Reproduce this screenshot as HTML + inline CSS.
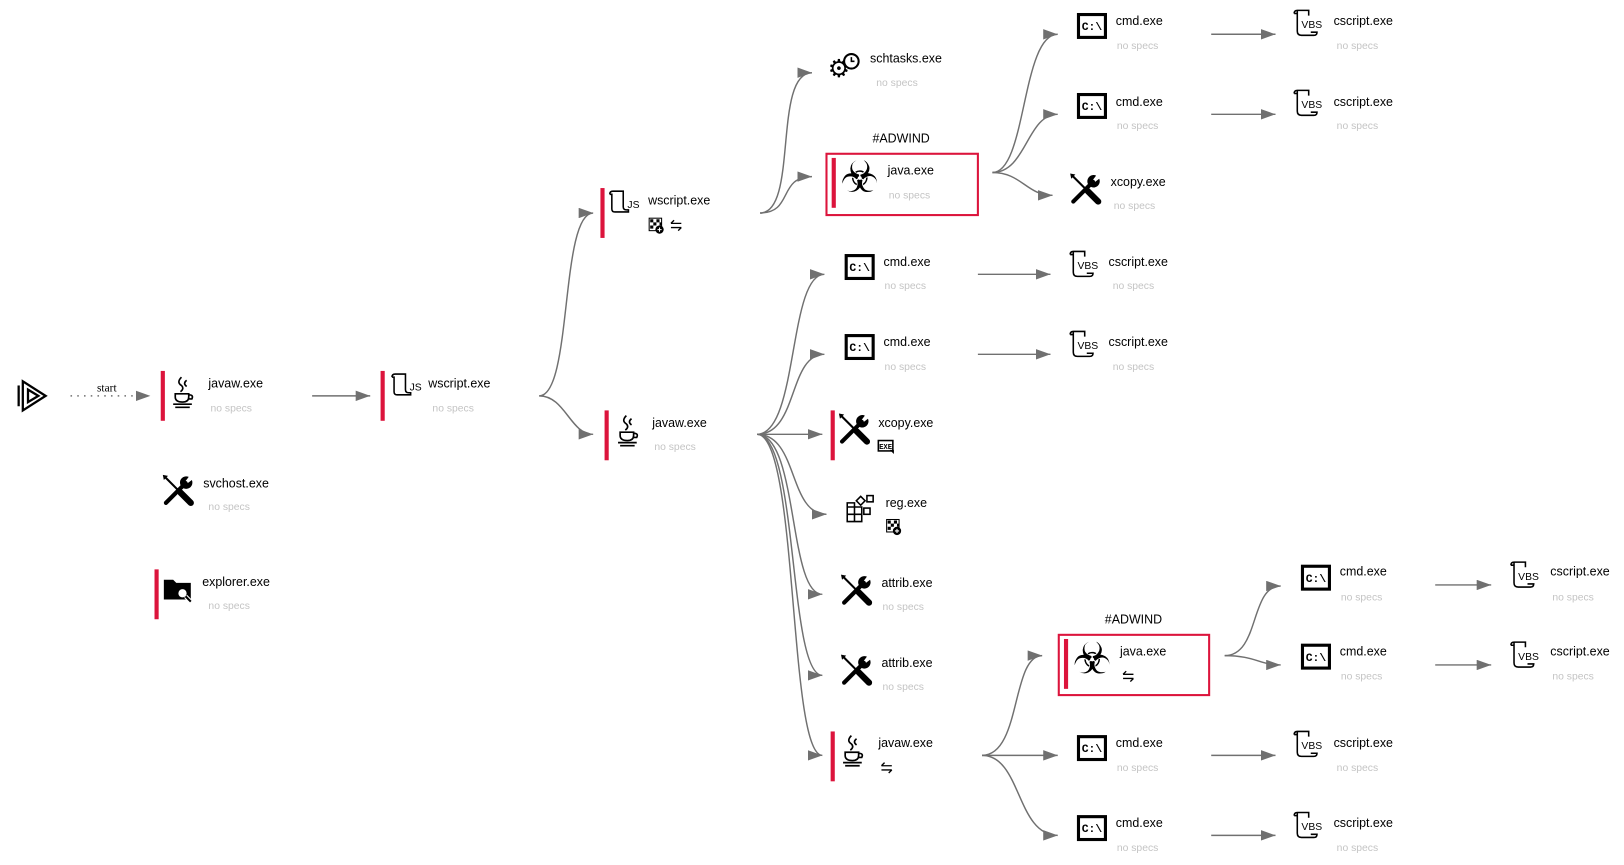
<!DOCTYPE html>
<html><head><meta charset="utf-8"><style>
html,body{margin:0;padding:0;background:#fff;width:1624px;height:865px;overflow:hidden}
svg{display:block}
.n{font-family:"Liberation Sans",sans-serif;font-size:12px;fill:#000}
.s{font-family:"Liberation Sans",sans-serif;font-size:10px;fill:#c4c4c4}
.e{fill:none;stroke:#707070;stroke-width:1.4}
.bar{fill:#dc143c}
</style></head><body>
<svg width="1624" height="865" viewBox="0 0 1624 865">
<defs>
<marker id="ar" markerWidth="14" markerHeight="10" refX="14" refY="5" orient="auto" markerUnits="userSpaceOnUse"><path d="M0,0 L14,5 L0,10 z" fill="#707070"/></marker>
<g id="cmd"><rect x="-13" y="-11" width="26" height="22" fill="#fff" stroke="#000" stroke-width="3"/><text x="0" y="4" text-anchor="middle" font-family="Liberation Mono,monospace" font-weight="bold" font-size="11">C:\</text></g>
<g id="vbs"><path d="M-14,-11 h3 v17 q0,4 4,4 h12 q3,0 3,-3 h-6 M-14,-11 q0,-3 3,-3 h11 v5 M-11,-11 v-3" fill="none" stroke="#000" stroke-width="1.5"/><text x="-7" y="3" font-family="Liberation Sans,sans-serif" font-size="10">VBS</text></g>
<g id="js"><path d="M-12,-10 q0,-3 3,-3 h10 v15 q0,3 3,3 h2 v2 h-13 q-3,0 -3,-3 v-14 h-2" fill="none" stroke="#000" stroke-width="1.5"/><text x="5" y="3" font-family="Liberation Sans,sans-serif" font-size="10">JS</text></g>
<g id="java" fill="none" stroke="#000" stroke-width="1.6"><path d="M-2,-14 q-5,5 0,8 q3,3 -1,6 M3,-11 q-4,3 0,6"/><path d="M-8,2 h13 v3 q0,5 -6,5 q-7,0 -7,-5 z M5,3 q5,0 3,4 h-3"/><path d="M-10,12 h18 M-8,15 h14"/></g>
<g id="tools"><path d="M-13,-13 L4,4" stroke="#000" stroke-width="2"/><path d="M2,2 L12,12" stroke="#000" stroke-width="6" stroke-linecap="round"/><path d="M-15,-15 l5,1 l-4,4z" fill="#000"/><path d="M10,-13 a6,6 0 1,0 3,3 l-4,3 l-2,-2 l3,-4 z" fill="#000"/><path d="M7,-7 L-12,12" stroke="#000" stroke-width="4" stroke-linecap="round"/></g>
<g id="bio"><text x="0" y="13" text-anchor="middle" font-family="DejaVu Sans,sans-serif" font-size="42">☣</text></g>
<g id="gear"><text x="-6" y="10" text-anchor="middle" font-family="DejaVu Sans,sans-serif" font-size="24">⚙</text><circle cx="6" cy="-5" r="7" fill="#fff" stroke="#000" stroke-width="2"/><path d="M6,-9 v4 h3" stroke="#000" fill="none" stroke-width="1.5"/></g>
<g id="reg" fill="none" stroke="#000" stroke-width="1.5"><path d="M-12,-3 h14 v14 h-14 z M-12,4 h14 M-5,-3 v14 M-12,-3 v-4 h7 v4"/><rect x="4" y="-2" width="6" height="6"/><rect x="-2" y="-12" width="6" height="6" transform="rotate(45 1 -9)"/><rect x="7" y="-14" width="6" height="6"/></g>
<g id="folder"><path d="M-13,-9 h9 l3,3 h14 v16 h-26 z" fill="#000"/><circle cx="5" cy="4" r="5" fill="#fff" stroke="#000" stroke-width="2"/><path d="M8,7 l5,5" stroke="#fff" stroke-width="4"/><path d="M8,7 l5,5" stroke="#000" stroke-width="2"/></g>
<g id="play" fill="none" stroke="#000" stroke-width="2.2"><path d="M-10,-14 L12,0 L-10,14 z"/><path d="M-14,-10 v20"/><path d="M-5,-6 L5,0 L-5,6z"/></g>
<g id="net" fill="none" stroke="#000" stroke-width="1.3"><path d="M-5,-2 h10 M-5,-2 l3,-3 M5,2 h-10 M5,2 l-3,3"/></g>
<g id="chk"><rect x="-7" y="-7" width="12" height="12" fill="#fff" stroke="#000"/><path d="M-6,-6h3v3h-3zM0,-6h3v3h-3zM-3,-3h3v3h-3zM3,-3h2v3h-2zM-6,0h3v3h-3z" fill="#000"/><circle cx="3" cy="4" r="4" fill="#000"/><path d="M1,4h4M3,2v4" stroke="#fff"/></g>
<g id="exe"><rect x="-7" y="-6" width="14" height="10" fill="#fff" stroke="#000" stroke-width="1.5"/><text x="0" y="2" text-anchor="middle" font-family="Liberation Mono,monospace" font-size="7" font-weight="bold">EXE</text><path d="M4,3 l4,0 l0,4 z" fill="#000"/></g>
</defs>
<g transform="scale(1.037,1.039)">
<path d="M68,381 H145" class="e" stroke-dasharray="1.5,5" marker-end="url(#ar)"/>
<text x="103" y="377" text-anchor="middle" font-family="Liberation Serif,serif" font-size="11">start</text>
<path d="M301,381 H357" class="e" marker-end="url(#ar)"/>
<path d="M520,381 C552,381 540,205 572,205" class="e" marker-end="url(#ar)"/>
<path d="M520,381 C545,381 550,418 572,418" class="e" marker-end="url(#ar)"/>
<path d="M733,205 C770,205 745,70 783,70" class="e" marker-end="url(#ar)"/>
<path d="M733,205 C765,205 750,170 783,170" class="e" marker-end="url(#ar)"/>
<path d="M957,166 C990,166 985,33 1020,33" class="e" marker-end="url(#ar)"/>
<path d="M957,166 C990,166 990,110 1020,110" class="e" marker-end="url(#ar)"/>
<path d="M957,166 C985,166 990,188 1015,188" class="e" marker-end="url(#ar)"/>
<path d="M1168,33 H1230" class="e" marker-end="url(#ar)"/>
<path d="M1168,110 H1230" class="e" marker-end="url(#ar)"/>
<path d="M730,418 C770,418 760,264 795,264" class="e" marker-end="url(#ar)"/>
<path d="M730,418 C770,418 760,341 795,341" class="e" marker-end="url(#ar)"/>
<path d="M730,418 H793" class="e" marker-end="url(#ar)"/>
<path d="M730,418 C770,418 760,495 797,495" class="e" marker-end="url(#ar)"/>
<path d="M730,418 C770,418 760,572 793,572" class="e" marker-end="url(#ar)"/>
<path d="M730,418 C770,418 760,650 793,650" class="e" marker-end="url(#ar)"/>
<path d="M730,418 C770,418 760,727 793,727" class="e" marker-end="url(#ar)"/>
<path d="M943,264 H1013" class="e" marker-end="url(#ar)"/>
<path d="M943,341 H1013" class="e" marker-end="url(#ar)"/>
<path d="M947,727 C985,727 975,631 1005,631" class="e" marker-end="url(#ar)"/>
<path d="M947,727 H1020" class="e" marker-end="url(#ar)"/>
<path d="M947,727 C985,727 980,804 1020,804" class="e" marker-end="url(#ar)"/>
<path d="M1181,631 C1215,631 1205,564 1235,564" class="e" marker-end="url(#ar)"/>
<path d="M1181,631 C1210,631 1215,640 1235,640" class="e" marker-end="url(#ar)"/>
<path d="M1384,563 H1438" class="e" marker-end="url(#ar)"/>
<path d="M1384,640 H1438" class="e" marker-end="url(#ar)"/>
<path d="M1168,727 H1230" class="e" marker-end="url(#ar)"/>
<path d="M1168,804 H1230" class="e" marker-end="url(#ar)"/>

<use href="#play" x="32" y="381"/>
<rect class="bar" x="155" y="357" width="4" height="48"/><use href="#java" x="177" y="377"/><text class="n" x="201" y="373">javaw.exe</text><text class="s" x="203" y="396">no specs</text>
<use href="#tools" x="172" y="472"/><text class="n" x="196" y="469">svchost.exe</text><text class="s" x="201" y="491">no specs</text>
<rect class="bar" x="149" y="548" width="4" height="48"/><use href="#folder" x="171" y="567"/><text class="n" x="195" y="564">explorer.exe</text><text class="s" x="201" y="586">no specs</text>
<rect class="bar" x="367" y="357" width="4" height="48"/><use href="#js" x="390" y="373"/><text class="n" x="413" y="373">wscript.exe</text><text class="s" x="417" y="396">no specs</text>
<rect class="bar" x="579" y="181" width="4" height="48"/><use href="#js" x="600" y="197"/><text class="n" x="625" y="197">wscript.exe</text><use href="#chk" x="633" y="217"/><use href="#net" x="652" y="217"/>
<rect class="bar" x="583" y="395" width="4" height="48"/><use href="#java" x="606" y="414"/><text class="n" x="629" y="411">javaw.exe</text><text class="s" x="631" y="433">no specs</text>
<use href="#gear" x="815" y="64"/><text class="n" x="839" y="60">schtasks.exe</text><text class="s" x="845" y="83">no specs</text>
<text class="n" x="869" y="137" text-anchor="middle">#ADWIND</text>
<rect x="797" y="148" width="146" height="59" fill="none" stroke="#dc143c" stroke-width="2"/>
<rect class="bar" x="802" y="152" width="4" height="48"/><use href="#bio" x="829" y="172"/><text class="n" x="856" y="168">java.exe</text><text class="s" x="857" y="191">no specs</text>
<use href="#cmd" x="1053" y="25"/><text class="n" x="1076" y="24">cmd.exe</text><text class="s" x="1077" y="47">no specs</text>
<use href="#vbs" x="1262" y="24"/><text class="n" x="1286" y="24">cscript.exe</text><text class="s" x="1289" y="47">no specs</text>
<use href="#cmd" x="1053" y="102"/><text class="n" x="1076" y="102">cmd.exe</text><text class="s" x="1077" y="124">no specs</text>
<use href="#vbs" x="1262" y="101"/><text class="n" x="1286" y="102">cscript.exe</text><text class="s" x="1289" y="124">no specs</text>
<use href="#tools" x="1047" y="182"/><text class="n" x="1071" y="179">xcopy.exe</text><text class="s" x="1074" y="201">no specs</text>
<use href="#cmd" x="829" y="257"/><text class="n" x="852" y="256">cmd.exe</text><text class="s" x="853" y="278">no specs</text>
<use href="#vbs" x="1046" y="256"/><text class="n" x="1069" y="256">cscript.exe</text><text class="s" x="1073" y="278">no specs</text>
<use href="#cmd" x="829" y="334"/><text class="n" x="852" y="333">cmd.exe</text><text class="s" x="853" y="356">no specs</text>
<use href="#vbs" x="1046" y="333"/><text class="n" x="1069" y="333">cscript.exe</text><text class="s" x="1073" y="356">no specs</text>
<rect class="bar" x="801" y="395" width="4" height="48"/><use href="#tools" x="824" y="413"/><text class="n" x="847" y="411">xcopy.exe</text><use href="#exe" x="854" y="430"/>
<use href="#reg" x="829" y="491"/><text class="n" x="854" y="488">reg.exe</text><use href="#chk" x="862" y="507"/>
<use href="#tools" x="826" y="568"/><text class="n" x="850" y="565">attrib.exe</text><text class="s" x="851" y="587">no specs</text>
<use href="#tools" x="826" y="645"/><text class="n" x="850" y="642">attrib.exe</text><text class="s" x="851" y="664">no specs</text>
<rect class="bar" x="801" y="704" width="4" height="48"/><use href="#java" x="823" y="722"/><text class="n" x="847" y="719">javaw.exe</text><use href="#net" x="855" y="739"/>
<text class="n" x="1093" y="600" text-anchor="middle">#ADWIND</text>
<rect x="1021" y="611" width="145" height="58" fill="none" stroke="#dc143c" stroke-width="2"/>
<rect class="bar" x="1026" y="615" width="4" height="48"/><use href="#bio" x="1053" y="635"/><text class="n" x="1080" y="631">java.exe</text><use href="#net" x="1088" y="651"/>
<use href="#cmd" x="1269" y="556"/><text class="n" x="1292" y="554">cmd.exe</text><text class="s" x="1293" y="578">no specs</text>
<use href="#vbs" x="1471" y="555"/><text class="n" x="1495" y="554">cscript.exe</text><text class="s" x="1497" y="578">no specs</text>
<use href="#cmd" x="1269" y="632"/><text class="n" x="1292" y="631">cmd.exe</text><text class="s" x="1293" y="654">no specs</text>
<use href="#vbs" x="1471" y="632"/><text class="n" x="1495" y="631">cscript.exe</text><text class="s" x="1497" y="654">no specs</text>
<use href="#cmd" x="1053" y="720"/><text class="n" x="1076" y="719">cmd.exe</text><text class="s" x="1077" y="742">no specs</text>
<use href="#vbs" x="1262" y="718"/><text class="n" x="1286" y="719">cscript.exe</text><text class="s" x="1289" y="742">no specs</text>
<use href="#cmd" x="1053" y="797"/><text class="n" x="1076" y="796">cmd.exe</text><text class="s" x="1077" y="819">no specs</text>
<use href="#vbs" x="1262" y="796"/><text class="n" x="1286" y="796">cscript.exe</text><text class="s" x="1289" y="819">no specs</text>
</g>
</svg>
</body></html>
